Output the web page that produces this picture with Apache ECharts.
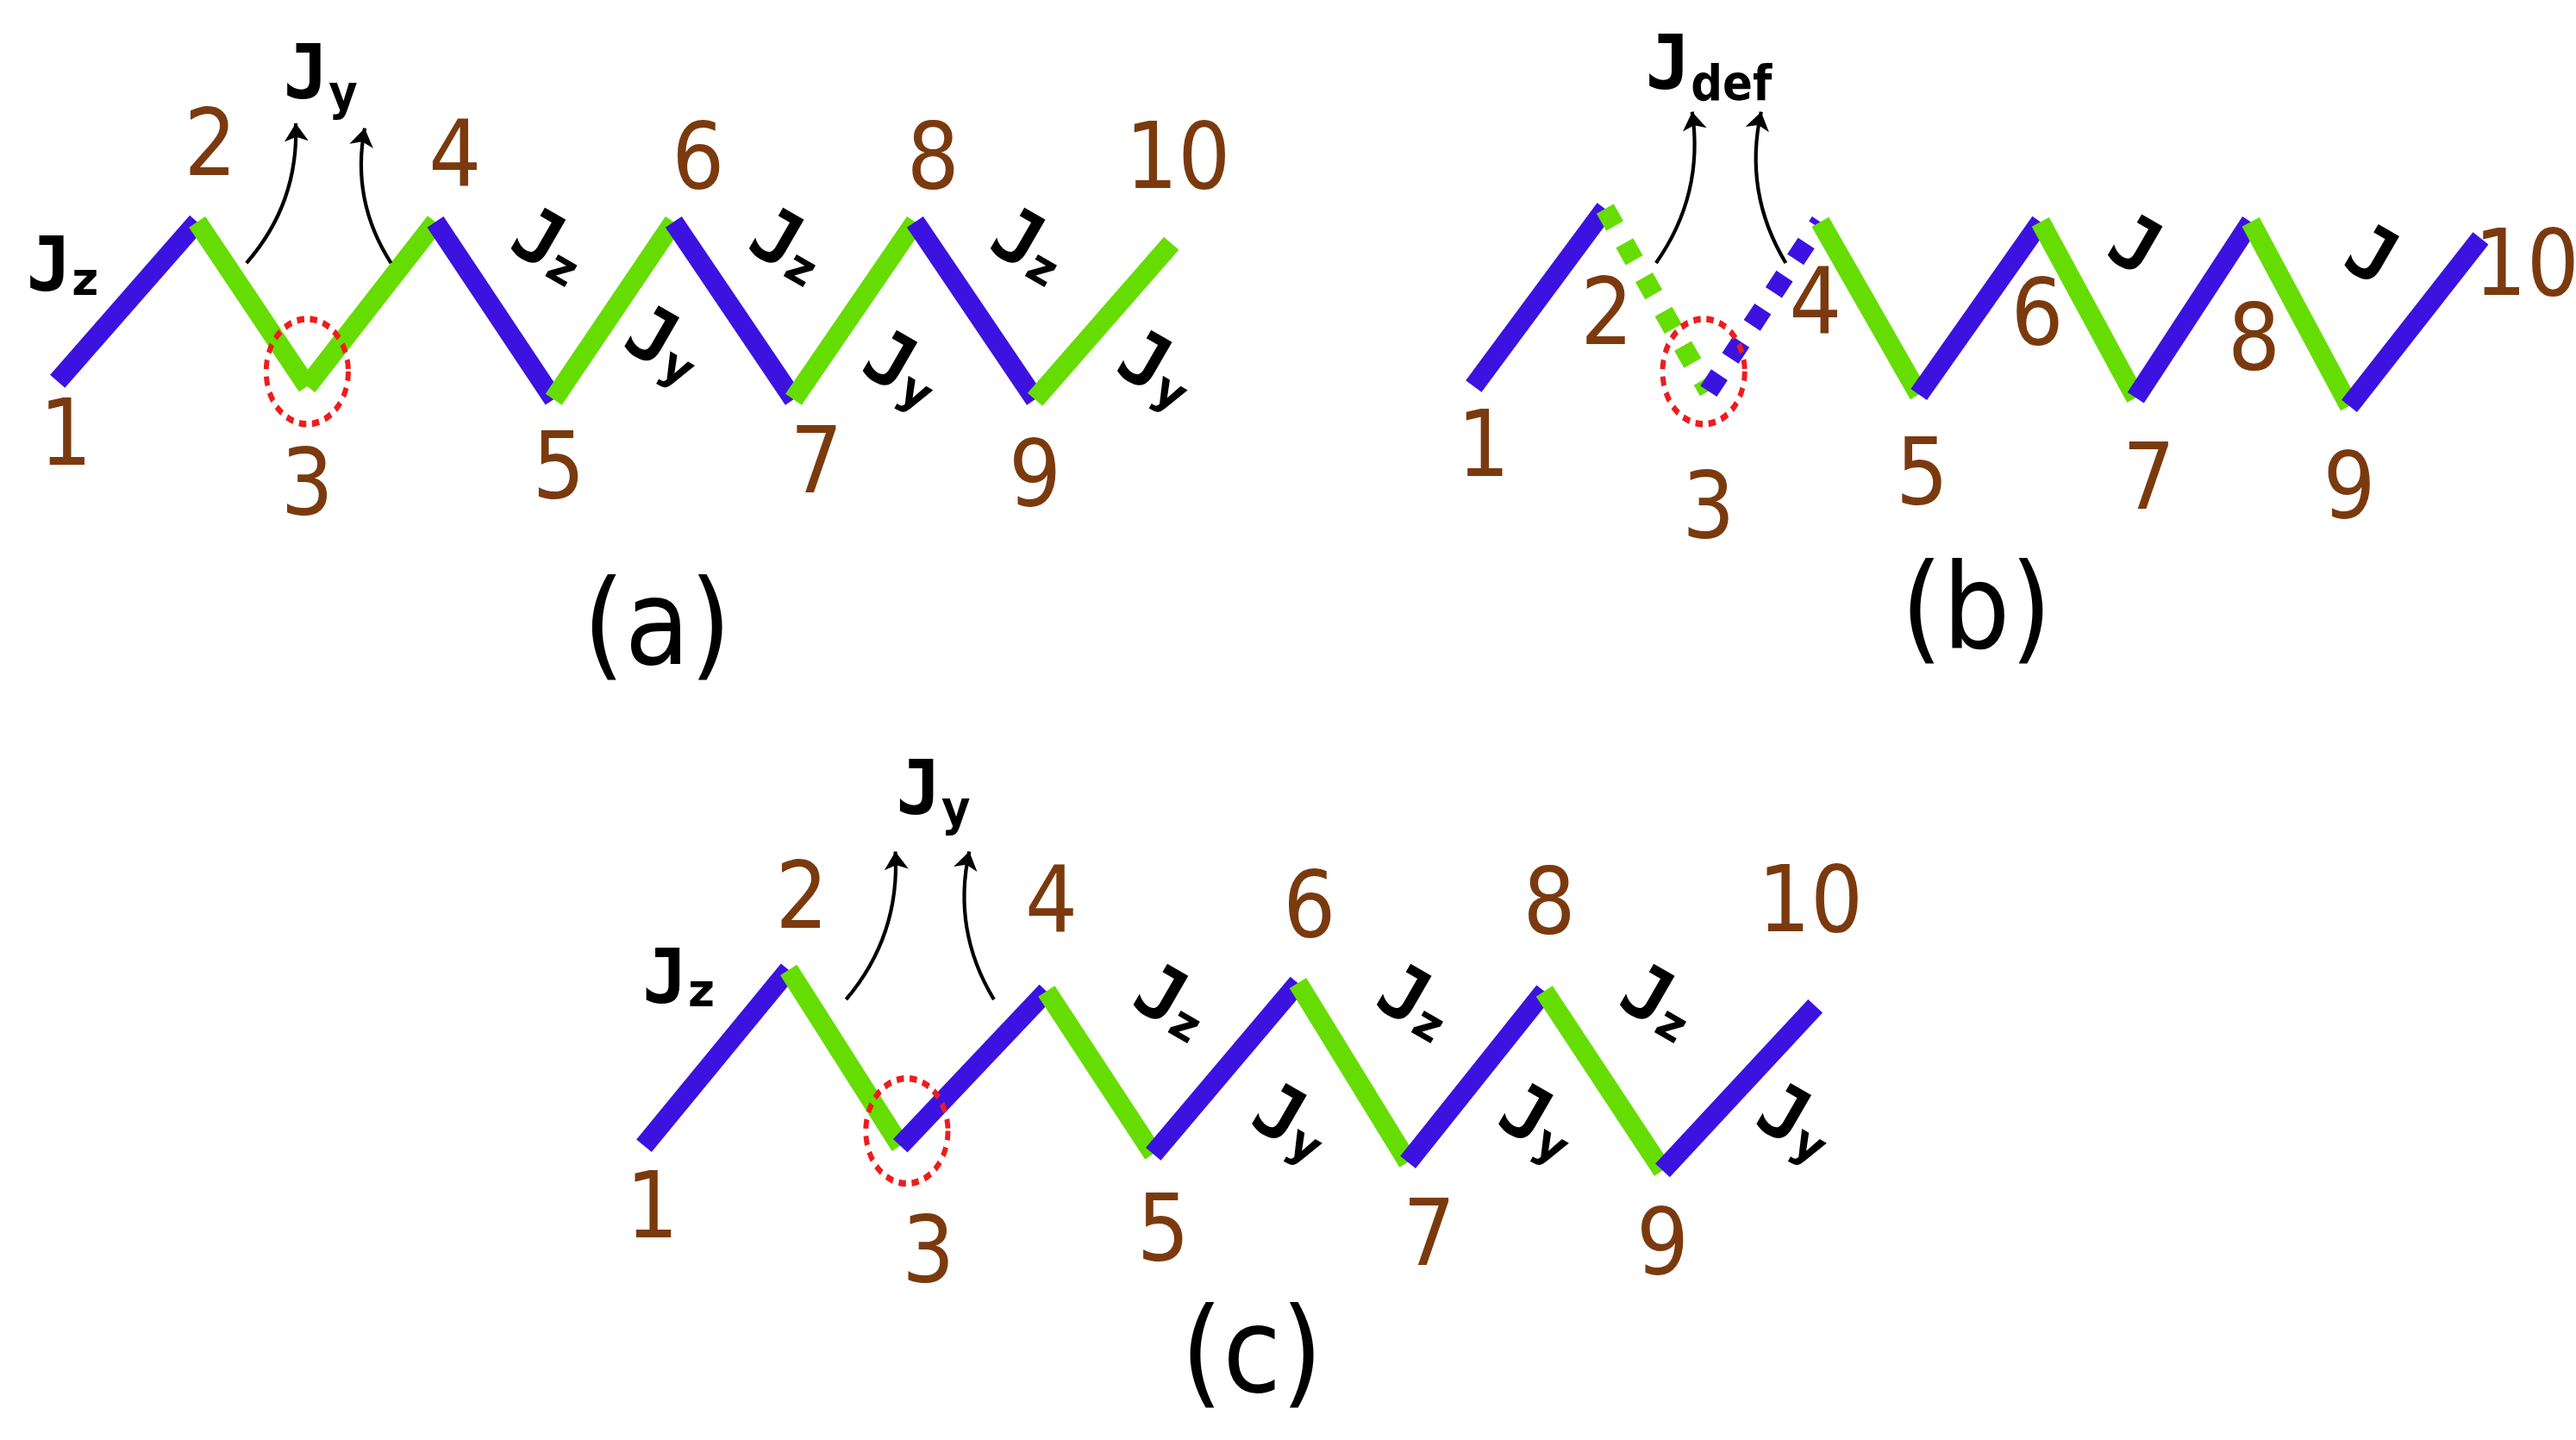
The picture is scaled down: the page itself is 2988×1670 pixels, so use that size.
<!DOCTYPE html>
<html><head><meta charset="utf-8">
<script src="https://cdn.jsdelivr.net/npm/echarts@6/dist/echarts.min.js"></script>
<style>html,body{margin:0;padding:0;background:#fff}#c{width:2988px;height:1670px}</style>
</head><body><div id="c"></div>
<script>
const S = 2988/1568;
const BLUE='#3c12e0', GREEN='#66dd00', BROWN='#7b3a0e';
const nodesA=[[35,232],[120,135],[187,235],[265,135],[337,243],[410,135],[483,243],[557,135],[630,243],[713,148]];
const colorsA=['b','g','g','b','g','b','g','b','g'];
const dashA=[0,0,0,0,0,0,0,0,0];
const nodesB=[[897,235],[977,127],[1040,238],[1108,135],[1168,240],[1242,135],[1300,242],[1370,135],[1430,247],[1510,145]];
const colorsB=['b','g','b','g','b','g','b','g','b'];
const dashB=[0,1,1,0,0,0,0,0,0];
const nodesC=[[392,697],[480,590],[548,697],[637,603],[702,702],[790,598],[857,707],[940,603],[1012,712],[1105,612]];
const colorsC=['b','g','b','g','b','g','b','g','b'];
const dashC=[0,0,0,0,0,0,0,0,0];
const numLabelsA=[[40,268],[128,92],[187,298],[277,98],[340,288],[425,100],[497,285],[568,100],[630,293],[717,100]];
const numLabelsB=[[903,275],[978,195],[1040,312],[1105,188],[1170,292],[1240,195],[1308,295],[1372,210],[1430,300],[1538,165]];
const numLabelsC=[[397,738],[488,550],[565,765],[640,552],[708,752],[797,555],[870,755],[943,553],[1012,760],[1102,552]];
const panelTitles=[['(a)',400,385],['(b)',1203,375],['(c)',762,828]];
const circles=[[187,226],[1037,226],[552,688]];
const arrows=[[[150,160],[180,75],-0.2],[[238,160],[222,78],0.2],[[1008,160],[1030,68],-0.2],[[1087,160],[1072,68],0.2],[[515,608],[545,518],-0.2],[[605,608],[590,518],0.2]];
const jLabels=[
 ['J','z',38,165,0,0],['J','y',195,48,0,1],
 ['J','z',333,152,-30,0],['J','z',478,152,-30,0],['J','z',625,152,-30,0],
 ['J','y',403,212,-30,0],['J','y',548,227,-30,0],['J','y',703,227,-30,0],
 ['J','def',1040,42,0,1],['J','',1298,152,-30,0],['J','',1442,158,-30,0],
 ['J','z',413,598,0,0],['J','y',568,483,0,1],
 ['J','z',712,612,-30,0],['J','z',860,612,-30,0],['J','z',1008,612,-30,0],
 ['J','y',785,685,-30,0],['J','y',935,685,-30,0],['J','y',1092,685,-30,0]
];

function segs(nodes,cols,dash){
  return cols.map((c,i)=>({coords:[nodes[i],nodes[i+1]],lineStyle:{color:c==='b'?BLUE:GREEN,width:12*S,opacity:1,type:dash[i]?[12*S,12*S]:'solid',cap:'butt'}}));
}
const segData=[...segs(nodesA,colorsA,dashA),...segs(nodesB,colorsB,dashB),...segs(nodesC,colorsC,dashC)];
const numData=[numLabelsA,numLabelsB,numLabelsC].flatMap(arr=>arr.map((p,i)=>({value:p,label:{formatter:String(i+1)}})));
const FONT='DejaVu Sans Condensed';
const chart=echarts.init(document.getElementById('c'));
chart.setOption({
 animation:false,
 grid:{left:0,right:0,top:0,bottom:0},
 xAxis:{type:'value',min:0,max:1568,show:false},
 yAxis:{type:'value',min:0,max:876,inverse:true,show:false},
 series:[
  {type:'lines',coordinateSystem:'cartesian2d',data:segData,silent:true,lineStyle:{opacity:1}},
  {type:'lines',coordinateSystem:'cartesian2d',symbol:['none','arrow'],symbolSize:11*S,
   data:arrows.map(a=>({coords:[a[0],a[1]],lineStyle:{curveness:a[2]}})),
   lineStyle:{color:'#000',width:2.2*S,opacity:1}},
  {type:'scatter',symbol:'circle',symbolSize:[50*S,64*S],data:circles,
   itemStyle:{color:'rgba(0,0,0,0)',opacity:1,borderColor:'#ee1c1c',borderWidth:3.5*S,borderType:[5*S,4*S]},z:5},
  {type:'scatter',symbolSize:0,data:numData,itemStyle:{opacity:1},
   label:{show:true,position:'inside',color:BROWN,opacity:1,fontSize:56*S,fontFamily:FONT}},
  {type:'scatter',symbolSize:0,data:panelTitles.map(t=>({value:[t[1],t[2]],label:{formatter:t[0]}})),itemStyle:{opacity:1},
   label:{show:true,position:'inside',color:'#000',opacity:1,fontSize:72*S,fontFamily:FONT}},
  {type:'scatter',symbolSize:0,itemStyle:{opacity:1},data:jLabels.map(j=>({value:[j[2],j[3]],label:{rotate:j[4],
     formatter:j[1]?'{'+(j[5]?'B':'j')+'|J}{'+(j[5]?'bs':'s')+'|'+j[1]+'}':'{j|J}'}})),
   label:{show:true,position:'inside',color:'#000',opacity:1,fontFamily:'DejaVu Sans Mono',
     rich:{j:{color:'#000',fontSize:46*S,fontWeight:'bold',fontFamily:'DejaVu Sans Mono'},
           s:{color:'#000',fontSize:28*S,fontWeight:'bold',padding:[14*S,0,0,0],fontFamily:'DejaVu Sans'},
           B:{color:'#000',fontSize:46*S,fontWeight:'bold',fontFamily:'DejaVu Sans Mono'},
           bs:{color:'#000',fontSize:30*S,fontWeight:'bold',padding:[22*S,0,0,0],fontFamily:FONT}}}}
 ]
});
</script></body></html>
